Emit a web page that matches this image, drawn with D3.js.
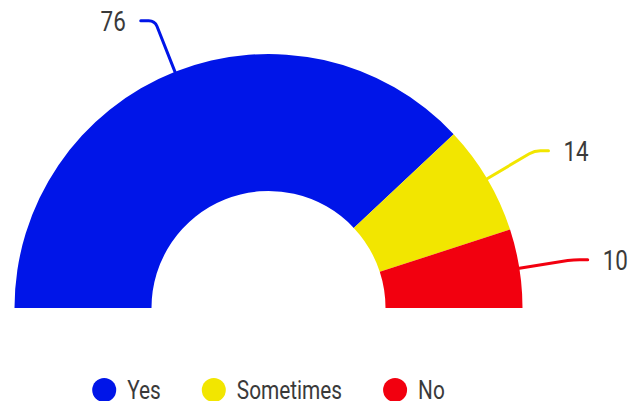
<!DOCTYPE html>
<html>
<head>
<meta charset="utf-8">
<script src="https://cdn.jsdelivr.net/npm/d3@7"></script>
<style>
  html, body { margin: 0; padding: 0; background: #fff; }
  svg { display: block; font-family: Roboto, "Liberation Sans", sans-serif; }
</style>
</head>
<body>
<div id="chart"></div>
<script>
var categories = ["Yes", "Sometimes", "No"];
var values = [76, 14, 10];
var colors = ["#0015e8", "#f2e600", "#f2000f"];

var width = 632, height = 401;
var cx = 268.5, cy = 308;
var outerR = 254, innerR = 117;
var squeeze = 0.8; // narrow type, like a condensed face

var svg = d3.select("#chart").append("svg")
    .attr("width", width)
    .attr("height", height);

var g = svg.append("g")
    .attr("transform", "translate(" + cx + "," + cy + ")");

var data = categories.map(function(c, i) {
    return { name: c, value: values[i], color: colors[i] };
});

var pie = d3.pie()
    .sort(null)
    .value(function(d) { return d.value; })
    .startAngle(-Math.PI / 2)
    .endAngle(Math.PI / 2);

var arc = d3.arc()
    .innerRadius(innerR)
    .outerRadius(outerR);

var arcs = pie(data);

g.selectAll(".slice")
    .data(arcs)
    .enter().append("path")
    .attr("class", "slice")
    .attr("d", arc)
    .style("fill", function(d) { return d.data.color; });

// leader lines + value labels
var leadR = outerR + 55;
function pt(a, r) {
    return [Math.sin(a) * r, -Math.cos(a) * r];
}

arcs.forEach(function(d) {
    var a = (d.startAngle + d.endAngle) / 2;
    var p0 = pt(a, outerR);
    var p1 = pt(a, leadR);
    var dir = Math.sin(a) < 0 ? -1 : 1;
    var p2 = [p1[0] + dir * 14, p1[1]];
    // small rounded knee
    var k = pt(a, leadR - 6);
    var path = "M" + p0[0] + "," + p0[1] +
        "L" + k[0] + "," + k[1] +
        "Q" + p1[0] + "," + p1[1] + " " + (p1[0] + dir * 6) + "," + p1[1] +
        "L" + p2[0] + "," + p2[1];

    g.append("path")
        .attr("d", path)
        .attr("fill", "none")
        .attr("stroke", d.data.color)
        .attr("stroke-width", 3)
        .attr("stroke-linecap", "round");

    g.append("text")
        .attr("transform", "translate(" + (p2[0] + dir * 15) + "," + (p2[1] + 10) + ") scale(" + squeeze + ",1)")
        .attr("text-anchor", dir < 0 ? "end" : "start")
        .style("font-size", "28px")
        .style("fill", "#3a3a3a")
        .text(d.data.value);
});

// legend
var legend = svg.append("g").attr("class", "legend");
var items = legend.selectAll(".item")
    .data(data)
    .enter().append("g")
    .attr("class", "item");

items.append("circle")
    .attr("r", 12)
    .attr("cy", 0)
    .style("fill", function(d) { return d.color; });

items.append("text")
    .attr("transform", "translate(23,9) scale(" + squeeze + ",1)")
    .style("font-size", "26px")
    .style("fill", "#3a3a3a")
    .text(function(d) { return d.name; });

var x = 0;
var offsets = [];
items.each(function(d) {
    var w = this.querySelector("text").getComputedTextLength() * squeeze;
    offsets.push(x);
    x += 24 + 11 + w + 41;
});
var total = x - 41;
var startX = cx - total / 2 + 12;
items.attr("transform", function(d, i) {
    return "translate(" + (startX + offsets[i]) + ",390)";
});
</script>
</body>
</html>
